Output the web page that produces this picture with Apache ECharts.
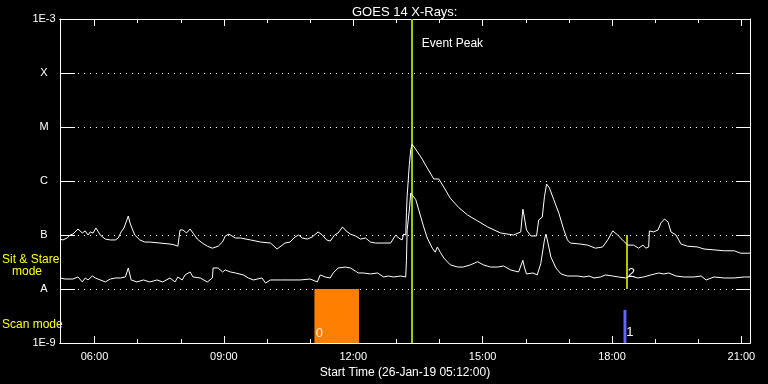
<!DOCTYPE html>
<html>
<head>
<meta charset="utf-8">
<script src="https://cdn.jsdelivr.net/npm/echarts@6/dist/echarts.min.js"></script>
<style>
html, body { margin: 0; background: #000; }
#chart { width: 768px; height: 384px; }
</style>
</head>
<body>
<div id="chart"></div>
<script>
// GOES 14 X-ray flux (W/m^2)
const longChannel = [
  ['05:12', 8.4e-8], ['05:16', 8.1e-8], ['05:22', 8.8e-8], ['05:26', 1.0e-7], ['05:30', 1.04e-7],
  ['05:37', 1.29e-7], ['05:43', 1.09e-7], ['05:47', 1.19e-7], ['05:51', 1.0e-7], ['05:54', 1.14e-7],
  ['05:58', 1.09e-7], ['06:02', 1.35e-7], ['06:08', 1.0e-7], ['06:15', 8.4e-8], ['06:22', 8.1e-8],
  ['06:29', 8.1e-8], ['06:33', 8.8e-8], ['06:37', 1.14e-7], ['06:41', 1.35e-7], ['06:44', 1.74e-7],
  ['06:47', 2.25e-7], ['06:49', 1.74e-7], ['06:52', 1.35e-7], ['06:56', 1.0e-7], ['07:03', 8.1e-8],
  ['07:10', 7.4e-8], ['07:17', 7.4e-8], ['07:31', 7.1e-8], ['07:45', 6.8e-8], ['07:52', 6.5e-8],
  ['07:56', 6.2e-8], ['07:59', 1.24e-7], ['08:03', 1.24e-7], ['08:08', 1.09e-7], ['08:10', 1.04e-7],
  ['08:13', 1.29e-7], ['08:17', 1.09e-7], ['08:23', 8.4e-8], ['08:30', 7.1e-8], ['08:37', 6.2e-8],
  ['08:44', 5.7e-8], ['08:52', 6.2e-8], ['08:58', 7.4e-8], ['09:02', 9.6e-8], ['09:07', 1.04e-7],
  ['09:16', 8.8e-8], ['09:23', 8.8e-8], ['09:37', 8.1e-8], ['09:51', 7.4e-8], ['10:05', 7.1e-8],
  ['10:14', 5.5e-8], ['10:25', 7.1e-8], ['10:32', 7.4e-8], ['10:39', 9.2e-8], ['10:44', 1.0e-7],
  ['10:49', 8.8e-8], ['10:56', 8.4e-8], ['11:03', 9.2e-8], ['11:11', 1.14e-7], ['11:17', 1.0e-7],
  ['11:23', 8.1e-8], ['11:28', 7.7e-8], ['11:34', 1.0e-7], ['11:39', 1.09e-7], ['11:45', 1.41e-7],
  ['11:50', 1.19e-7], ['11:56', 1.04e-7], ['12:03', 9.6e-8], ['12:10', 8.4e-8], ['12:17', 8.8e-8],
  ['12:24', 7.4e-8], ['12:31', 7.1e-8], ['12:52', 7.1e-8], ['12:59', 1.0e-7], ['13:03', 8.8e-8],
  ['13:08', 8.1e-8], ['13:10', 1.04e-7], ['13:13', 1.0e-7], ['13:14', 2.6e-7], ['13:15', 5.3e-7],
  ['13:18', 2.0e-6], ['13:20', 3.8e-6], ['13:22', 4.8e-6], ['13:34', 2.8e-6], ['13:43', 1.74e-6],
  ['13:52', 1.09e-6], ['13:59', 1.09e-6], ['14:06', 7.7e-7], ['14:15', 4.8e-7], ['14:27', 3.2e-7],
  ['14:39', 2.35e-7], ['14:53', 1.82e-7], ['15:07', 1.41e-7], ['15:25', 1.09e-7], ['15:43', 1.0e-7],
  ['15:53', 1.14e-7], ['15:56', 3.0e-7], ['15:58', 2.15e-7], ['16:01', 1.24e-7], ['16:07', 9.6e-8],
  ['16:15', 9.6e-8], ['16:18', 1.9e-7], ['16:23', 2.15e-7], ['16:26', 5.1e-7], ['16:29', 8.8e-7],
  ['16:33', 7.4e-7], ['16:39', 4.5e-7], ['16:46', 2.55e-7], ['16:53', 1.24e-7], ['16:58', 8.1e-8],
  ['17:02', 7.1e-8], ['17:16', 6.8e-8], ['17:26', 6.5e-8], ['17:37', 5.7e-8], ['17:47', 6.0e-8],
  ['17:54', 8.1e-8], ['18:01', 1.19e-7], ['18:08', 1.0e-7], ['18:16', 7.7e-8], ['18:22', 6.5e-8],
  ['18:30', 6.5e-8], ['18:37', 5.7e-8], ['18:43', 6.5e-8], ['18:47', 5.7e-8], ['18:51', 6.0e-8],
  ['18:52', 1.19e-7], ['18:58', 1.14e-7], ['19:04', 1.24e-7], ['19:08', 1.67e-7], ['19:13', 1.98e-7],
  ['19:18', 1.74e-7], ['19:22', 1.14e-7], ['19:29', 1.0e-7], ['19:36', 6.8e-8], ['19:45', 6.2e-8],
  ['19:59', 6.0e-8], ['20:08', 5.5e-8], ['20:22', 5.3e-8], ['20:36', 5.1e-8], ['20:50', 5.1e-8],
  ['20:59', 4.6e-8], ['21:12', 4.6e-8]
]

const shortChannel = [
  ['05:12', 1.6e-8], ['05:19', 1.53e-8], ['05:30', 1.53e-8], ['05:37', 1.67e-8], ['05:43', 1.35e-8],
  ['05:47', 1.6e-8], ['05:51', 1.47e-8], ['05:57', 1.74e-8], ['06:01', 1.6e-8], ['06:08', 1.47e-8],
  ['06:15', 1.35e-8], ['06:22', 1.53e-8], ['06:29', 1.6e-8], ['06:36', 1.6e-8], ['06:43', 1.67e-8],
  ['06:47', 2.45e-8], ['06:51', 1.47e-8], ['06:59', 1.35e-8], ['07:08', 1.47e-8], ['07:17', 1.35e-8],
  ['07:27', 1.47e-8], ['07:35', 1.35e-8], ['07:45', 1.6e-8], ['07:52', 1.35e-8], ['07:56', 1.67e-8],
  ['08:02', 1.47e-8], ['08:06', 1.82e-8], ['08:13', 2.07e-8], ['08:17', 1.67e-8], ['08:27', 1.6e-8],
  ['08:37', 1.35e-8], ['08:44', 1.6e-8], ['08:45', 2.45e-8], ['08:52', 2.45e-8], ['08:58', 2.07e-8],
  ['09:02', 2.25e-8], ['09:09', 2.07e-8], ['09:16', 1.98e-8], ['09:27', 1.82e-8], ['09:34', 1.6e-8],
  ['09:41', 1.47e-8], ['09:53', 1.6e-8], ['09:58', 1.29e-8], ['10:05', 1.47e-8], ['10:19', 1.47e-8],
  ['10:32', 1.47e-8], ['10:46', 1.47e-8], ['11:00', 1.53e-8], ['11:10', 1.35e-8], ['11:14', 1.82e-8],
  ['11:21', 1.67e-8], ['11:28', 1.6e-8], ['11:32', 1.98e-8], ['11:39', 2.45e-8], ['11:49', 2.55e-8],
  ['11:56', 2.45e-8], ['12:03', 2.15e-8], ['12:07', 1.98e-8], ['12:14', 1.98e-8], ['12:24', 1.9e-8],
  ['12:34', 1.98e-8], ['12:42', 1.67e-8], ['12:49', 1.74e-8], ['12:56', 1.67e-8], ['13:06', 1.74e-8],
  ['13:13', 1.67e-8], ['13:14', 3.4e-8], ['13:15', 1.24e-7], ['13:18', 2.9e-7], ['13:20', 6.0e-7],
  ['13:22', 6.0e-7], ['13:27', 4.5e-7], ['13:34', 2.15e-7], ['13:38', 1.41e-7], ['13:43', 8.8e-8],
  ['13:50', 5.7e-8], ['13:54', 4.8e-8], ['13:57', 6.0e-8], ['14:01', 4.8e-8], ['14:06', 3.75e-8],
  ['14:15', 2.8e-8], ['14:25', 2.55e-8], ['14:33', 2.55e-8], ['14:43', 2.8e-8], ['14:53', 3.2e-8],
  ['15:01', 2.8e-8], ['15:11', 2.55e-8], ['15:21', 2.55e-8], ['15:29', 2.67e-8], ['15:39', 2.25e-8],
  ['15:50', 2.07e-8], ['15:56', 3.4e-8], ['15:58', 2.55e-8], ['16:01', 1.9e-8], ['16:10', 1.98e-8],
  ['16:16', 1.82e-8], ['16:21', 3.0e-8], ['16:26', 8.1e-8], ['16:28', 1.04e-7], ['16:30', 8.1e-8],
  ['16:35', 3.9e-8], ['16:42', 2.45e-8], ['16:49', 1.9e-8], ['16:58', 1.74e-8], ['17:07', 1.74e-8],
  ['17:12', 1.74e-8], ['17:21', 1.67e-8], ['17:28', 1.74e-8], ['17:35', 1.6e-8], ['17:44', 1.67e-8],
  ['17:51', 1.82e-8], ['18:01', 1.74e-8], ['18:09', 1.67e-8], ['18:19', 1.6e-8], ['18:26', 1.74e-8],
  ['18:36', 1.6e-8], ['18:44', 1.67e-8], ['18:54', 1.82e-8], ['19:05', 1.98e-8], ['19:12', 1.9e-8],
  ['19:19', 1.98e-8], ['19:29', 1.74e-8], ['19:40', 1.67e-8], ['19:54', 1.67e-8], ['20:04', 1.74e-8],
  ['20:11', 1.47e-8], ['20:22', 1.67e-8], ['20:36', 1.6e-8], ['20:50', 1.6e-8], ['21:04', 1.67e-8],
  ['21:12', 1.67e-8]
]

// observation markers
const eventPeakTime = '13:22'
const scanStart = ['11:06', '18:16']
const scanEnd = ['12:08', '18:20']
const scanTop = [1e-8, 4.1e-9]
const sitStareTime = '18:21'
const sitStareRange = [1e-8, 1e-7]

// y tick labels, 1E-9 .. 1E-3
const decadeLabels = ['1E-9', 'A', 'B', 'C', 'M', 'X', '1E-3']

// one category per minute, 05:12 .. 21:12
const pad = n => (n < 10 ? '0' : '') + n
const minutes = []
for (let m = 5 * 60 + 12; m <= 21 * 60 + 12; m++) {
  minutes.push(pad(Math.floor(m / 60)) + ':' + pad(m % 60))
}
const onHour = (i, v) => v.slice(3) === '00'
const onThird = (i, v) => v.slice(3) === '00' && (+v.slice(0, 2)) % 3 === 0

const font = 'Liberation Sans'
const white = '#ffffff'

function tickAxis(position, every, len, labels) {
  return {
    type: 'category',
    position: position,
    data: minutes,
    boundaryGap: false,
    axisLine: { show: true, lineStyle: { color: white, width: 1 } },
    axisTick: { show: true, inside: true, length: len, interval: every, lineStyle: { color: white } },
    axisLabel: { show: labels, interval: every, color: white, fontFamily: font, fontSize: 11, margin: 8 },
    splitLine: { show: false }
  }
}

const bottomMajor = tickAxis('bottom', onThird, 7, true)
bottomMajor.name = 'Start Time (26-Jan-19 05:12:00)'
bottomMajor.nameLocation = 'middle'
bottomMajor.nameGap = 18
bottomMajor.nameTextStyle = { color: white, fontFamily: font, fontSize: 12 }

const chart = echarts.init(document.getElementById('chart'))
chart.setOption({
  backgroundColor: '#000',
  animation: false,
  title: {
    text: 'GOES 14 X-Rays:',
    left: 347,
    top: 1,
    textStyle: { color: white, fontFamily: font, fontSize: 13, fontWeight: 'normal' }
  },
  grid: { left: 60, right: 18, top: 19, bottom: 41, outerBoundsMode: 'none' },
  xAxis: [
    tickAxis('bottom', onHour, 4, false),
    bottomMajor,
    tickAxis('top', onHour, 4, false),
    tickAxis('top', onThird, 7, false)
  ],
  yAxis: [
    {
      type: 'log',
      logBase: 10,
      min: 1e-9,
      max: 1e-3,
      position: 'left',
      axisLine: { show: true, lineStyle: { color: white } },
      axisTick: { show: true, inside: true, length: 15, lineStyle: { color: white } },
      axisLabel: {
        color: white,
        fontFamily: font,
        fontSize: 11,
        align: 'center',
        margin: 16,
        formatter: v => decadeLabels[Math.round(Math.log10(v)) + 9]
      },
      splitLine: { show: true, lineStyle: { color: white, type: [1, 5], width: 1 } }
    },
    {
      type: 'log',
      logBase: 10,
      min: 1e-9,
      max: 1e-3,
      position: 'right',
      axisLine: { show: true, lineStyle: { color: white } },
      axisTick: { show: true, inside: true, length: 14, lineStyle: { color: white } },
      axisLabel: { show: false },
      splitLine: { show: false }
    }
  ],
  graphic: [
    { type: 'text', left: 2, top: 254, style: { text: 'Sit & Stare', fill: '#ffff00', font: '12px "Liberation Sans"' } },
    { type: 'text', left: 12, top: 266, style: { text: 'mode', fill: '#ffff00', font: '12px "Liberation Sans"' } },
    { type: 'text', left: 2, top: 319, style: { text: 'Scan mode', fill: '#ffff00', font: '12px "Liberation Sans"' } }
  ],
  series: [
    {
      name: 'short',
      type: 'line',
      data: shortChannel,
      showSymbol: false,
      lineStyle: { color: white, width: 1 },
      z: 5,
      markArea: {
        silent: true,
        data: scanStart.map((s, i) => [
          { coord: [s, 1e-9], itemStyle: { color: i === 0 ? '#ff8000' : '#6464ff' } },
          { coord: [scanEnd[i], scanTop[i]] }
        ])
      },
      markPoint: {
        silent: true,
        symbol: 'circle',
        symbolSize: 1,
        itemStyle: { color: 'rgba(0,0,0,0)' },
        label: { show: true, color: white, fontFamily: font, fontSize: 13, position: 'inside' },
        data: [
          { coord: ['11:13', 1.53e-9], label: { formatter: '0', color: '#fff0e0' } },
          { coord: ['18:25', 1.6e-9], label: { formatter: '1' } },
          { coord: ['18:27', 1.98e-8], label: { formatter: '2' } },
          { coord: ['14:18', 3.5e-4], label: { formatter: 'Event Peak', fontSize: 12 } }
        ]
      }
    },
    {
      name: 'long',
      type: 'line',
      data: longChannel,
      showSymbol: false,
      lineStyle: { color: white, width: 1 },
      z: 5,
      markLine: {
        silent: true,
        symbol: 'none',
        label: { show: false },
        data: [
          [
            { coord: [eventPeakTime, 1e-9], lineStyle: { color: '#9acd00', width: 2, type: 'solid' } },
            { coord: [eventPeakTime, 1e-3] }
          ],
          [
            { coord: [sitStareTime, sitStareRange[0]], lineStyle: { color: '#ffff00', width: 1.5, type: 'solid' } },
            { coord: [sitStareTime, sitStareRange[1]] }
          ]
        ]
      }
    }
  ]
})
</script>
</body>
</html>
